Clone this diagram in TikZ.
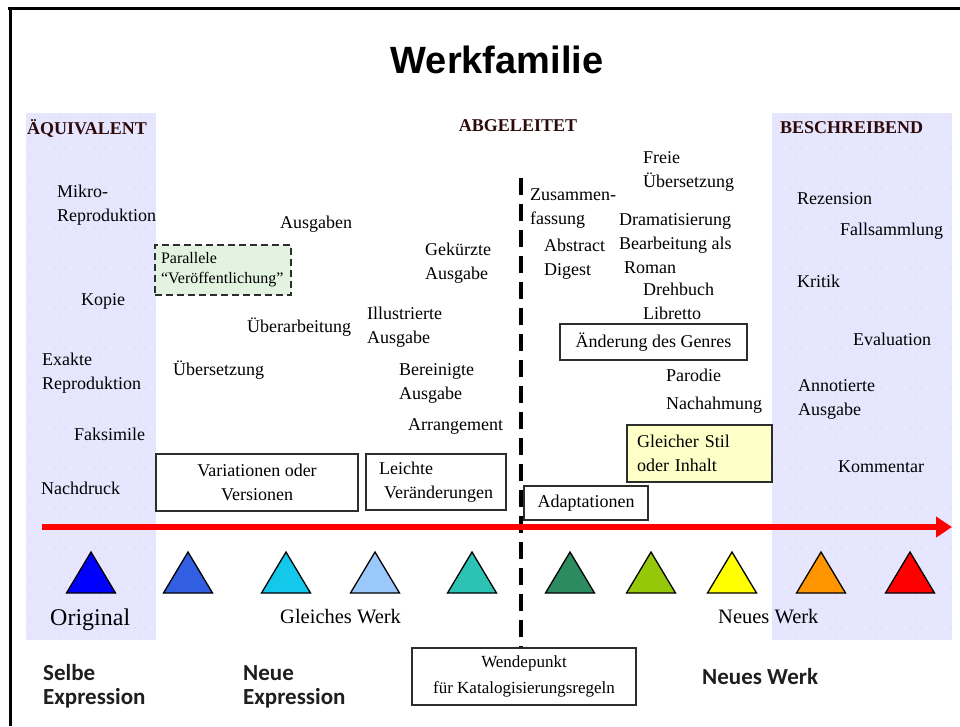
\documentclass[tikz,border=0pt]{standalone}
\usepackage{fontspec}
\setmainfont{Liberation Serif}
\newfontfamily\titlefont{Liberation Sans}
\newfontfamily\calfont{Carlito}
\usetikzlibrary{arrows.meta}
\definecolor{panel}{RGB}{230,230,255}
\definecolor{dotc}{RGB}{240,185,220}
\definecolor{hdr}{RGB}{45,10,10}
\definecolor{boxline}{RGB}{45,45,45}
\definecolor{parfill}{RGB}{226,244,224}
\definecolor{yelfill}{RGB}{255,255,200}
\definecolor{tA}{RGB}{0,0,255}
\definecolor{tB}{RGB}{50,95,225}
\definecolor{tC}{RGB}{20,200,235}
\definecolor{tD}{RGB}{155,200,250}
\definecolor{tE}{RGB}{45,195,180}
\definecolor{tF}{RGB}{45,140,95}
\definecolor{tG}{RGB}{150,200,10}
\definecolor{tH}{RGB}{255,255,0}
\definecolor{tI}{RGB}{255,150,0}
\definecolor{tJ}{RGB}{255,0,0}
\definecolor{bottxt}{RGB}{30,30,30}
\begin{document}
\begin{tikzpicture}[x=1pt,y=-1pt,
  tx/.style={font=\fontsize{18}{24}\selectfont, inner sep=0pt, align=left, anchor=west},
  hd/.style={font=\bfseries\fontsize{18}{22}\selectfont, text=hdr, inner sep=0pt},
  lbl/.style={font=\fontsize{20.5}{24}\selectfont, inner sep=0pt, anchor=west},
  bt/.style={font=\calfont\bfseries\fontsize{23}{24}\selectfont, text=bottxt, inner sep=0pt, align=left, anchor=west},
  box/.style={draw=boxline, line width=1.8pt, fill=white, inner sep=0pt, font=\fontsize{18}{24}\selectfont, align=center},
  tri/.style={draw=black, line width=1.3pt, line join=miter}
]
\useasboundingbox (0,0) rectangle (960,726);
\fill[white] (0,0) rectangle (960,726);

% shaded panels
\fill[panel] (26,113) rectangle (156,640);
\fill[panel] (772,113) rectangle (952,640);
\foreach \r in {0,...,52} {
  \foreach \c in {0,...,12} {
    \fill[dotc] ({30+\c*10+mod(\r,2)*5},{118+\r*10}) circle (0.7pt);
  }
  \foreach \c in {0,...,17} {
    \fill[dotc] ({776+\c*10+mod(\r,2)*5},{118+\r*10}) circle (0.7pt);
  }
}

% frame
\draw[line width=3pt] (8,8) -- (960,8);
\draw[line width=3pt] (10,8) -- (10,726);

% title
\node[font=\titlefont\bfseries\fontsize{38}{44}\selectfont, inner sep=0pt] (title) at (497,60) {Werkfamilie};

% headers
\node[hd, anchor=west] (aeq) at (27,128) {ÄQUIVALENT};
\node[hd] (abg) at (518,126) {ABGELEITET};
\node[hd, anchor=west] (besch) at (780,128) {BESCHREIBEND};

% turning point box and dashed line
\node[box, minimum width=224, minimum height=57, font=\fontsize{17}{26}\selectfont] (wende) at (524,676.5) {Wendepunkt\\für Katalogisierungsregeln};
\coordinate (turn) at (521,178);
\draw[line width=4pt, dash pattern=on 17pt off 9pt] (turn) -- (turn |- wende.north);

% red axis arrow
\coordinate (axS) at (42,527);
\coordinate (axE) at (952,527);
\draw[red, line width=6pt, -{Triangle[length=16pt,width=20pt]}] (axS) -- (axE);

% triangles
\foreach \cx/\col in {91/tA,188/tB,286/tC,375/tD,472/tE,570/tF,651/tG,732/tH,821/tI,910/tJ} {
  \filldraw[tri, fill=\col] ({\cx-24.5},593) -- (\cx,552) -- ({\cx+24.5},593) -- cycle;
}

% left panel texts
\node[tx] (mikro) at (57,205.5) {Mikro-\\Reproduktion};
\node[tx] (kopie) at (81,301) {Kopie};
\node[tx] (exakte) at (42,373) {Exakte\\Reproduktion};
\node[tx] (faks) at (74,434) {Faksimile};
\node[tx] (nachdr) at (41,488) {Nachdruck};

% middle texts
\node[tx] (ausgaben) at (280,224) {Ausgaben};
\node[tx] (gekuerzt) at (425,263.5) {Gekürzte\\Ausgabe};
\node[tx] (illu) at (367,327) {Illustrierte\\Ausgabe};
\node[tx] (ueberarb) at (247,327) {Überarbeitung};
\node[tx] (uebers) at (173,370) {Übersetzung};
\node[tx] (bereinigt) at (399,383.5) {Bereinigte\\Ausgabe};
\node[tx] (arrang) at (408,426) {Arrangement};
\node[tx] (zusammen) at (530,209) {Zusammen-\\fassung};
\node[tx] (abstract) at (544,259) {Abstract\\Digest};
\node[tx] (freie) at (643,171.5) {Freie\\Übersetzung};
\node[tx] (drama) at (619,243.5) {Dramatisierung\\Bearbeitung als\\\hspace*{5pt}Roman};
\node[tx] (dreh) at (643,301.5) {Drehbuch\\Libretto};
\node[tx] (parodie) at (666,391) {Parodie\\[4pt]Nachahmung};

% right panel texts
\node[tx] (rez) at (797,199) {Rezension};
\node[tx] (fall) at (840,231) {Fallsammlung};
\node[tx] (kritik) at (797,281) {Kritik};
\node[tx] (eval) at (853,339) {Evaluation};
\node[tx] (annot) at (798,399.5) {Annotierte\\Ausgabe};
\node[tx] (komm) at (838,467) {Kommentar};

% boxes
\node[box, dash pattern=on 7pt off 4pt, line width=1.5pt, fill=parfill, text width=124, inner xsep=6pt, minimum height=50, font=\fontsize{16}{20}\selectfont, align=left] (parallel) at (223,270) {Parallele\\“Veröffentlichung”};
\node[box, minimum width=202, minimum height=57] (var) at (257,482.5) {Variationen oder\\Versionen};
\node[box, minimum width=140, minimum height=56, align=left] (leicht) at (436,482) {Leichte\\\hspace*{5pt}Veränderungen};
\node[box, minimum width=187, minimum height=36] (genre) at (653.5,342) {Änderung des Genres};
\node[box, minimum width=124, minimum height=34] (adapt) at (586,503) {Adaptationen};
\node[box, fill=yelfill, text width=125, inner xsep=10pt, minimum height=57, align=left] (stil) at (699.5,453.5) {Gleicher Stil\\oder Inhalt};

% labels under triangles
\node[font=\fontsize{24}{28}\selectfont, inner sep=0pt, anchor=west] (orig) at (50,620) {Original};
\node[lbl] (gleich) at (280,617) {Gleiches Werk};
\node[lbl] (neuw) at (718,617) {Neues Werk};

% bottom labels
\node[bt] (selbe) at (43,686.5) {Selbe\\Expression};
\node[bt] (neue) at (243,686.5) {Neue\\Expression};
\node[bt] (neuesw) at (702,677) {Neues Werk};
\end{tikzpicture}
\end{document}
